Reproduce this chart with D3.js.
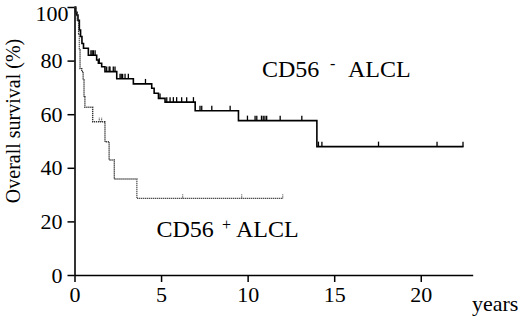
<!DOCTYPE html>
<html><head><meta charset="utf-8">
<script src="https://cdn.jsdelivr.net/npm/d3@7"></script>
<style>
html,body{margin:0;padding:0;background:#fff;}
svg{display:block;}
</style></head>
<body>
<svg id="c" width="520" height="319"></svg>
<script>
// CD56- ALCL (solid)
const negTimes = [0, 0.07, 0.13, 0.2, 0.28, 0.35, 0.43, 0.52, 0.8, 1.28, 1.38, 1.57, 1.76, 2.44, 3.4, 4.46, 4.6, 4.85, 5.23, 6.97, 9.47, 14.0];
const negSurv  = [100, 98, 97, 95, 91.4, 89, 86.4, 84.6, 82, 80.2, 79, 77.7, 75.9, 73.2, 71.3, 69.7, 67.8, 65.9, 64.5, 61.3, 57.6, 47.9];
const negEnd = 22.47;
const negCensor = [0.95, 1.02, 1.09, 1.19, 1.43, 1.86, 2.0, 2.05, 2.24, 2.34, 2.63, 2.7, 2.78, 2.92, 3.11, 4.1, 4.94, 5.33, 5.52, 5.71, 5.9, 6.19, 6.48, 6.87, 7.25, 7.35, 7.93, 8.99, 9.99, 10.43, 10.53, 10.8, 10.9, 11.0, 11.1, 11.88, 13.13, 14.09, 14.29, 17.56, 20.94, 22.44];

// CD56+ ALCL (dotted)
const posTimes = [0, 0.09, 0.16, 0.24, 0.28, 0.32, 0.42, 0.5, 0.55, 0.6, 1.05, 1.76, 2.0, 2.3, 3.6];
const posSurv  = [100, 98, 95, 90, 84, 77, 75.9, 72.8, 66.5, 62.6, 57.2, 49.7, 42.9, 35.8, 28.6];
const posEnd = 12.03;
const posCensor = [1.43, 1.57, 6.25, 9.66, 12.03];

const xTicks = [0, 5, 10, 15, 20];
const yTicks = [0, 20, 40, 60, 80, 100];

const FONT = '"Liberation Serif", "Times New Roman", serif';
const svg = d3.select("#c");
const x = d3.scaleLinear().domain([0, 23]).range([74.5, 472.7]);
const y = d3.scaleLinear().domain([0, 100]).range([275, 7]);

// axes
const xAxis = d3.axisBottom(x).tickValues(xTicks).tickSize(7).tickPadding(4).tickSizeOuter(0);
const gx = svg.append("g").attr("transform", `translate(0,${y(0)})`).call(xAxis);
gx.select(".domain").attr("stroke", "#000").attr("stroke-width", 1.6);
gx.selectAll(".tick line").attr("stroke", "#000").attr("stroke-width", 1.5);
gx.selectAll(".tick text").attr("font-size", 22).attr("dy", "0.72em")
  .style("font-family", FONT).attr("fill", "#000");

const yAxis = d3.axisLeft(y).tickValues(yTicks).tickSize(7).tickPadding(5).tickSizeOuter(0);
const gy = svg.append("g").attr("transform", `translate(${x(0)},0)`).call(yAxis);
gy.select(".domain").attr("stroke", "#000").attr("stroke-width", 1.6);
gy.selectAll(".tick line").attr("stroke", "#000").attr("stroke-width", 1.5);
gy.selectAll(".tick text").attr("font-size", 22)
  .style("font-family", FONT).attr("fill", "#000")
  .attr("dx", d => d === 100 ? 6 : 0)
  .attr("dy", d => d === 100 ? "0.6em" : "0.32em");

svg.append("text").attr("transform", "translate(20,121) rotate(-90)")
  .attr("text-anchor", "middle").attr("font-size", 20).style("font-family", FONT)
  .text("Overall survival (%)");
svg.append("text").attr("x", 472).attr("y", 311).attr("font-size", 22)
  .style("font-family", FONT).text("years");

function stepData(ts, ss, end) {
  const d = ts.map((t, i) => [t, ss[i]]);
  d.push([end, ss[ss.length - 1]]);
  return d;
}
function survAt(ts, ss, t) {
  let v = ss[0];
  for (let i = 0; i < ts.length; i++) if (ts[i] <= t) v = ss[i];
  return v;
}
const line = d3.line().x(d => x(d[0])).y(d => y(d[1])).curve(d3.curveStepAfter);

// CD56- solid
svg.append("path").datum(stepData(negTimes, negSurv, negEnd))
  .attr("d", line).attr("fill", "none").attr("stroke", "#000").attr("stroke-width", 1.6);
svg.append("g").selectAll("line").data(negCensor).join("line")
  .attr("x1", d => x(d)).attr("x2", d => x(d))
  .attr("y1", d => y(survAt(negTimes, negSurv, d)))
  .attr("y2", d => y(survAt(negTimes, negSurv, d)) - 5)
  .attr("stroke", "#000").attr("stroke-width", 1.3);

// CD56+ dotted
svg.append("path").datum(stepData(posTimes, posSurv, posEnd))
  .attr("d", line).attr("fill", "none").attr("stroke", "#333").attr("stroke-width", 1.4)
  .attr("stroke-dasharray", "1.2,0.8");
svg.append("g").selectAll("line").data(posCensor).join("line")
  .attr("x1", d => x(d)).attr("x2", d => x(d))
  .attr("y1", d => y(survAt(posTimes, posSurv, d)))
  .attr("y2", d => y(survAt(posTimes, posSurv, d)) - 4)
  .attr("stroke", "#444").attr("stroke-width", 1).attr("stroke-dasharray", "1,0.6");

// labels
function label(g, xp, yp, size, txt) {
  g.append("text").attr("x", xp).attr("y", yp).attr("font-size", size)
    .style("font-family", FONT).text(txt);
}
const neg = svg.append("g");
label(neg, 262, 77, 24, "CD56");
label(neg, 330, 69, 16, "-");
label(neg, 348, 77, 24, "ALCL");

const pos = svg.append("g");
label(pos, 156.5, 237, 24, "CD56");
label(pos, 222, 230, 16, "+");
label(pos, 236, 237, 24, "ALCL");
</script>
</body></html>
